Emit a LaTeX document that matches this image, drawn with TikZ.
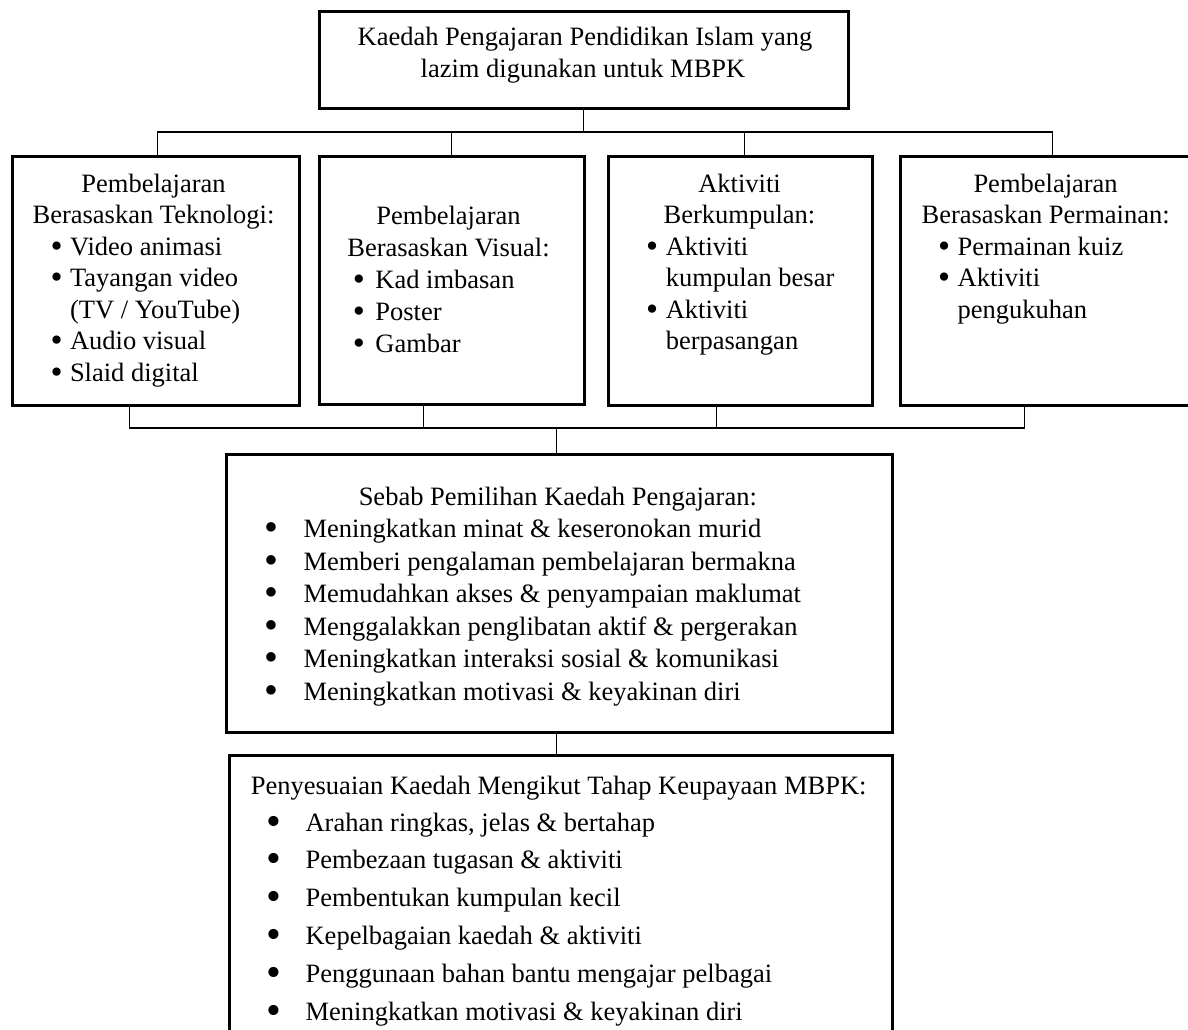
\documentclass[tikz,border=0pt]{standalone}
\usepackage{graphicx}
\usepackage{fontspec}
\setmainfont{Liberation Serif}
% bullet centred #1 to the left of the text start, scaled #2, lowered #3
\newcommand\bul[3]{\llap{\makebox[0pt][c]{\smash{\raisebox{-#3}{\scalebox{#2}{\textbullet}}}}\hspace{#1}}}
\newcommand\bra[1]{\bul{#1}{1.3}{2pt}}
\newcommand\brb[1]{\bul{#1}{1.5}{3.3pt}}
\newcommand\brc[1]{\bul{#1}{1.6}{4pt}}
\begin{document}
\begin{tikzpicture}[x=1pt,y=-1pt,
  box/.style={draw, line width=2.6pt, anchor=north west, inner sep=0pt},
  conn/.style={line width=1.3pt},
  txt/.style={inner sep=0pt, font=\fontsize{26.5}{31.75}\selectfont},
  ttl/.style={txt, anchor=base},
  itm/.style={txt, anchor=base west}]
\useasboundingbox (0,0) rectangle (1188,1030);
\clip (0,0) rectangle (1188,1030);

% boxes
\node[box, minimum width=529pt, minimum height=97pt]  (top)   at (318,10)  {};
\node[box, minimum width=287pt, minimum height=249pt] (b1)    at (11,155)  {};
\node[box, minimum width=265pt, minimum height=248pt] (b2)    at (318,155) {};
\node[box, minimum width=264pt, minimum height=249pt] (b3)    at (607,155) {};
\node[box, minimum width=304pt, minimum height=249pt] (b4)    at (899,155) {};
\node[box, minimum width=666pt, minimum height=278pt] (sebab) at (225,453) {};
\node[box, minimum width=663pt, minimum height=330pt] (peny)  at (228,754) {};

% connectors
\coordinate (tbar) at (0,132);
\coordinate (bbar) at (0,428);
\draw[conn] (top.south) -- (top.south |- tbar);
\draw[conn] ([xshift=1.5pt]b1.north) |- (b4.north |- tbar) -- (b4.north);
\draw[conn] (b2.north) -- (b2.north |- tbar);
\draw[conn] ([xshift=4pt]b3.north) -- ([xshift=4pt]b3.north |- tbar);
\draw[conn] ([xshift=-26.5pt]b1.south) |- ([xshift=-28pt]b4.south |- bbar) -- ([xshift=-28pt]b4.south);
\draw[conn] ([xshift=-28.5pt]b2.south) -- ([xshift=-28.5pt]b2.south |- bbar);
\draw[conn] ([xshift=-24pt]b3.south) -- ([xshift=-24pt]b3.south |- bbar);
\draw[conn] ([xshift=-3pt]sebab.north) -- ([xshift=-3pt]sebab.north |- bbar);
\draw[conn] ([xshift=-3pt]sebab.south) -- ([xshift=-3pt]sebab.south |- peny.north);

% top text
\node[ttl] (t1) at (585,46) {Kaedah Pengajaran Pendidikan Islam yang};
\node[ttl] (t2) at (583,78) {lazim digunakan untuk MBPK};

% box 1
\node[ttl] (b1t1) at (153.5,192) {Pembelajaran};
\node[ttl] (b1t2) at (153.5,223.5) {Berasaskan Teknologi:};
\node[itm] (b1i1) at (69.8,255) {\bra{13.3pt}Video animasi};
\node[itm] (b1i2) at (69.8,286.5) {\bra{13.3pt}Tayangan video};
\node[itm] (b1i3) at (69.8,318) {(TV / YouTube)};
\node[itm] (b1i4) at (69.8,349.5) {\bra{13.3pt}Audio visual};
\node[itm] (b1i5) at (69.8,381) {\bra{13.3pt}Slaid digital};

% box 2
\node[ttl] (b2t1) at (448.5,224) {Pembelajaran};
\node[ttl] (b2t2) at (448.5,256) {Berasaskan Visual:};
\node[itm] (b2i1) at (375.2,288) {\bra{16.4pt}Kad imbasan};
\node[itm] (b2i2) at (375.2,320) {\bra{16.4pt}Poster};
\node[itm] (b2i3) at (375.2,352) {\bra{16.4pt}Gambar};

% box 3
\node[ttl] (b3t1) at (739.5,192) {Aktiviti};
\node[ttl] (b3t2) at (739.5,223.5) {Berkumpulan:};
\node[itm] (b3i1) at (665.6,255) {\bra{13.6pt}Aktiviti};
\node[itm] (b3i2) at (665.6,286.5) {kumpulan besar};
\node[itm] (b3i3) at (665.6,318) {\bra{13.6pt}Aktiviti};
\node[itm] (b3i4) at (665.6,349.5) {berpasangan};

% box 4
\node[ttl] (b4t1) at (1045.6,192) {Pembelajaran};
\node[ttl] (b4t2) at (1045.6,223.5) {Berasaskan Permainan:};
\node[itm] (b4i1) at (957.5,255) {\bra{13.5pt}Permainan kuiz};
\node[itm] (b4i2) at (957.5,286.5) {\bra{13.5pt}Aktiviti};
\node[itm] (b4i3) at (957.5,318) {pengukuhan};

% sebab
\node[ttl] (st) at (557.8,505.5) {Sebab Pemilihan Kaedah Pengajaran:};
\foreach \s [count=\i from 0] in {%
  {Meningkatkan minat \& keseronokan murid},
  {Memberi pengalaman pembelajaran bermakna},
  {Memudahkan akses \& penyampaian maklumat},
  {Menggalakkan penglibatan aktif \& pergerakan},
  {Meningkatkan interaksi sosial \& komunikasi},
  {Meningkatkan motivasi \& keyakinan diri}}
  \node[itm] (s\i) at (303.3,537.5+32.5*\i) {\brb{32.1pt}\s};

% penyesuaian
\node[ttl] (pt) at (558.7,794) {Penyesuaian Kaedah Mengikut Tahap Keupayaan MBPK:};
\foreach \s [count=\i from 0] in {%
  {Arahan ringkas, jelas \& bertahap},
  {Pembezaan tugasan \& aktiviti},
  {Pembentukan kumpulan kecil},
  {Kepelbagaian kaedah \& aktiviti},
  {Penggunaan bahan bantu mengajar pelbagai},
  {Meningkatkan motivasi \& keyakinan diri}}
  \node[itm] (p\i) at (305.4,831+37.8*\i) {\brc{31.2pt}\s};
\end{tikzpicture}
\end{document}
